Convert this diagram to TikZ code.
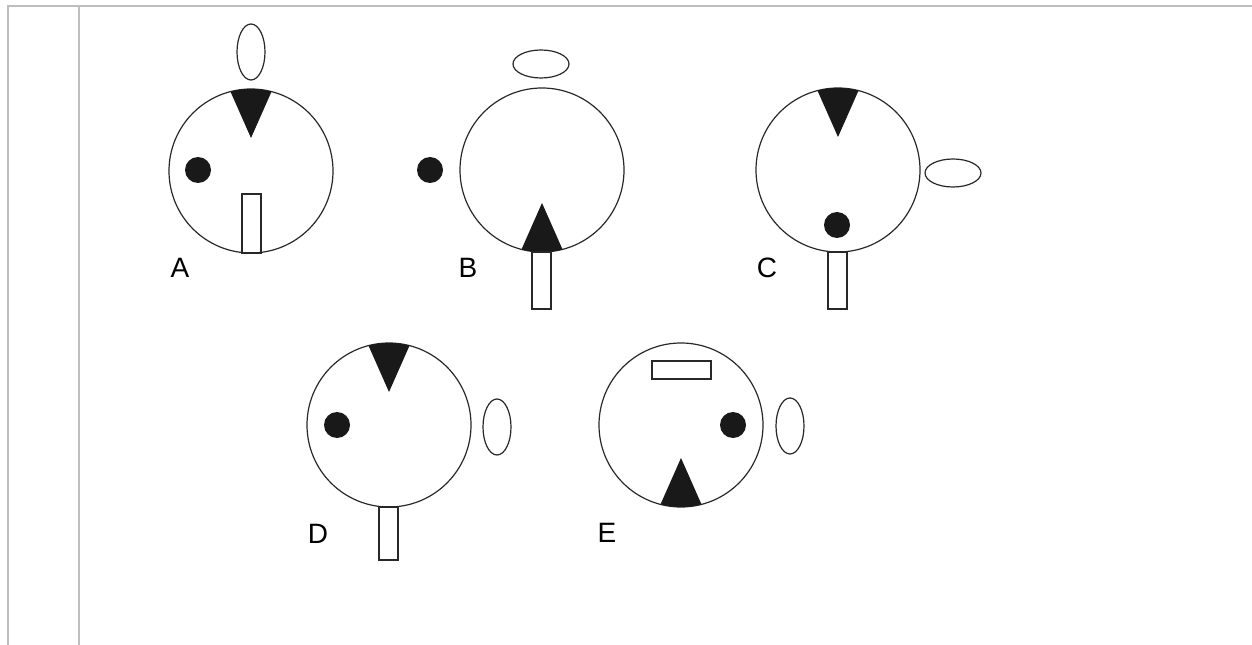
\documentclass[tikz,border=0pt]{standalone}
\usepackage{fontspec}
\setmainfont{Liberation Sans}
\usetikzlibrary{calc}

\tikzset{every picture/.style={line width=0.75pt}}
\tikzset{
  frame/.style={draw={rgb, 255:red, 190; green, 190; blue, 190 }, line width=1.5pt},
  part/.style={draw={rgb, 255:red, 40; green, 40; blue, 40 }, line width=0.9pt},
  blob/.style={fill={rgb, 255:red, 25; green, 25; blue, 25 }},
  lbl/.style={inner sep=0.75pt, font=\fontsize{21}{25}\selectfont}
}

\begin{document}
\begin{tikzpicture}[x=0.75pt,y=0.75pt,yscale=-1,xscale=1]
\useasboundingbox (0,0) rectangle (1252,645);

%Table frame
\coordinate (tl) at (8,6);
\coordinate (tr) at (1252,6);
\coordinate (bl) at (8,645);
\coordinate (ml) at (79,6);
\coordinate (mb) at (79,645);
\draw [frame] (bl) -- (tl) -- (tr);
\draw [frame] (ml) -- (mb);

%centres of the five discs
\coordinate (cA) at (251,171);
\coordinate (cB) at (542,170);
\coordinate (cC) at (838,170);
\coordinate (cD) at (389,425);
\coordinate (cE) at (681,425);

%Shape: Circle [A]
\draw [part] (cA) circle [radius=82];
%Shape: Triangle [A]
\fill [blob] (cA) ++(255.5:82) arc [start angle=255.5, end angle=284.5, radius=82] -- ($(cA)+(0,-33)$) -- cycle;
%Shape: Dot [A]
\fill [blob] (198,170) circle [radius=13];
%Shape: Rectangle [A]
\draw [part] (242,194) rectangle (261,253);
%Shape: Ellipse [A]
\draw [part] (251,52) ellipse [x radius=14, y radius=28];

%Shape: Circle [B]
\draw [part] (cB) circle [radius=82];
%Shape: Triangle [B]
\fill [blob] (cB) ++(75.5:82) arc [start angle=75.5, end angle=104.5, radius=82] -- ($(cB)+(0,33)$) -- cycle;
%Shape: Dot [B]
\fill [blob] (430,170) circle [radius=13];
%Shape: Rectangle [B]
\draw [part] (532,252) rectangle (551,309);
%Shape: Ellipse [B]
\draw [part] (541,64) ellipse [x radius=28, y radius=14];

%Shape: Circle [C]
\draw [part] (cC) circle [radius=82];
%Shape: Triangle [C]
\fill [blob] (cC) ++(255.5:82) arc [start angle=255.5, end angle=284.5, radius=82] -- ($(cC)+(0,-33)$) -- cycle;
%Shape: Dot [C]
\fill [blob] (837,225) circle [radius=13];
%Shape: Rectangle [C]
\draw [part] (828,252) rectangle (847,309);
%Shape: Ellipse [C]
\draw [part] (953,173) ellipse [x radius=28, y radius=14];

%Shape: Circle [D]
\draw [part] (cD) circle [radius=82];
%Shape: Triangle [D]
\fill [blob] (cD) ++(255.5:82) arc [start angle=255.5, end angle=284.5, radius=82] -- ($(cD)+(0,-33)$) -- cycle;
%Shape: Dot [D]
\fill [blob] (337,425) circle [radius=13];
%Shape: Rectangle [D]
\draw [part] (379,507) rectangle (398,560);
%Shape: Ellipse [D]
\draw [part] (497,427) ellipse [x radius=14, y radius=28];

%Shape: Circle [E]
\draw [part] (cE) circle [radius=82];
%Shape: Triangle [E]
\fill [blob] (cE) ++(75.5:82) arc [start angle=75.5, end angle=104.5, radius=82] -- ($(cE)+(0,33)$) -- cycle;
%Shape: Dot [E]
\fill [blob] (733,425) circle [radius=13];
%Shape: Rectangle [E]
\draw [part] (652,361) rectangle (711,379);
%Shape: Ellipse [E]
\draw [part] (790,426) ellipse [x radius=14, y radius=28];

% Text Node
\node [lbl] (labA) at (180,268) {A};
% Text Node
\node [lbl] (labB) at (468,268) {B};
% Text Node
\node [lbl] (labC) at (767,268) {C};
% Text Node
\node [lbl] (labD) at (318,534) {D};
% Text Node
\node [lbl] (labE) at (607,533) {E};

\end{tikzpicture}
\end{document}
